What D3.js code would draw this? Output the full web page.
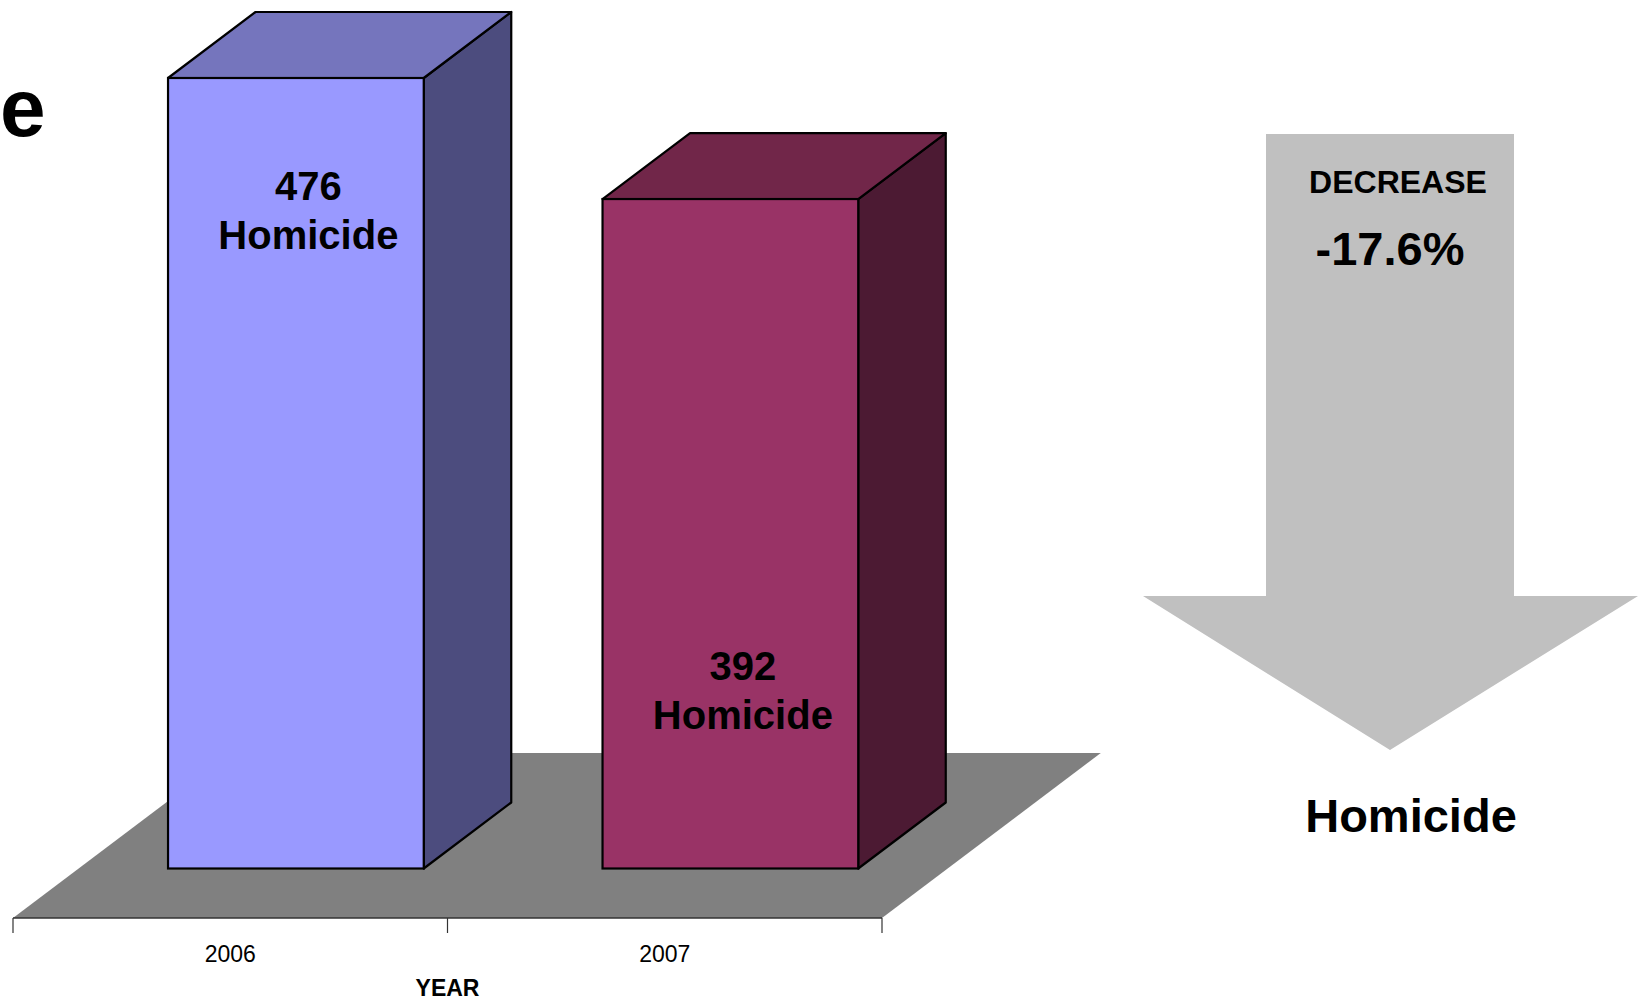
<!DOCTYPE html>
<html>
<head>
<meta charset="utf-8">
<script src="https://cdn.jsdelivr.net/npm/d3@7"></script>
<style>
  html, body { margin: 0; padding: 0; background: #fff; }
  svg { display: block; font-family: "Liberation Sans", Arial, sans-serif; }
</style>
</head>
<body>
<div id="chart"></div>
<script>
/** Data */
const years = ["2006", "2007"];
const homicides = [476, 392];
const crimeLabel = "Homicide";
const changeText = "-17.6%";
const changeLabel = "DECREASE";

/** Style per bar: front / top / side faces */
const barColors = [
  { front: "#9999ff", top: "#7575bd", side: "#4c4c7e" },
  { front: "#993366", top: "#712649", side: "#4c1a33" }
];
// where the two-line label sits, measured down from the bar's top edge
const labelDrop = [122, 481];

const W = 1646, H = 1002;

/** 3D geometry */
const floorFrontY = 918;
const floorDepthY = 165;
const slope = 1.326;          // x shift per 1px of depth in y
const barDepthY = 66;
const barOffsetY = (floorDepthY - barDepthY) / 2;

const svg = d3.select("#chart").append("svg")
  .attr("width", W)
  .attr("height", H);

/** Scales */
const xScale = d3.scaleBand()
  .domain(years)
  .range([13, 882]);

const barWidth = xScale.bandwidth() * 0.5885;

// axis minimum of the original chart sits below zero
const yScale = d3.scaleLinear()
  .domain([-72.6, 476])
  .range([floorFrontY - barOffsetY, 78]);

/** Floor */
const fx0 = xScale.range()[0], fx1 = xScale.range()[1];
const fdx = floorDepthY * slope;
svg.append("polygon")
  .attr("points", [
    [fx0, floorFrontY], [fx1, floorFrontY],
    [fx1 + fdx, floorFrontY - floorDepthY], [fx0 + fdx, floorFrontY - floorDepthY]
  ].map(p => p.join(",")).join(" "))
  .attr("fill", "#808080");

/** Bars */
const bdx = barDepthY * slope;
const shiftX = barOffsetY * slope;
const bars = svg.append("g").attr("id", "bars");

years.forEach((yr, i) => {
  const x0 = xScale(yr) + (xScale.bandwidth() - barWidth) / 2 + shiftX;
  const x1 = x0 + barWidth;
  const yTop = yScale(homicides[i]);
  const yBot = yScale.range()[0];
  const g = bars.append("g");
  const pts = arr => arr.map(p => p.join(",")).join(" ");

  g.append("polygon")
    .attr("points", pts([[x1, yTop], [x1 + bdx, yTop - barDepthY], [x1 + bdx, yBot - barDepthY], [x1, yBot]]))
    .attr("fill", barColors[i].side)
    .attr("stroke", "#000").attr("stroke-width", 2.2).attr("stroke-linejoin", "round");
  g.append("polygon")
    .attr("points", pts([[x0, yTop], [x0 + bdx, yTop - barDepthY], [x1 + bdx, yTop - barDepthY], [x1, yTop]]))
    .attr("fill", barColors[i].top)
    .attr("stroke", "#000").attr("stroke-width", 2.2).attr("stroke-linejoin", "round");
  g.append("rect")
    .attr("x", x0).attr("y", yTop)
    .attr("width", barWidth).attr("height", yBot - yTop)
    .attr("fill", barColors[i].front)
    .attr("stroke", "#000").attr("stroke-width", 2.2);

  const cx = x0 + barWidth / 2 + 12.5;
  const ly = yTop + labelDrop[i];
  g.append("text")
    .attr("x", cx).attr("y", ly)
    .attr("text-anchor", "middle")
    .style("font-size", "40px").style("font-weight", "bold")
    .text(homicides[i]);
  g.append("text")
    .attr("x", cx).attr("y", ly + 49)
    .attr("text-anchor", "middle")
    .style("font-size", "40px").style("font-weight", "bold")
    .text(crimeLabel);
});

/** X axis: ticks on band edges, labels at band centres */
const axis = svg.append("g").attr("id", "x-axis");
axis.append("line")
  .attr("x1", fx0).attr("x2", fx1)
  .attr("y1", floorFrontY).attr("y2", floorFrontY)
  .attr("stroke", "#333").attr("stroke-width", 1.5);
axis.selectAll("line.tick")
  .data([...years.map(d => xScale(d)), fx1])
  .enter().append("line")
  .attr("class", "tick")
  .attr("x1", d => d).attr("x2", d => d)
  .attr("y1", floorFrontY).attr("y2", floorFrontY + 15)
  .attr("stroke", "#333").attr("stroke-width", 1.2);
axis.selectAll("text")
  .data(years)
  .enter().append("text")
  .attr("x", d => xScale(d) + xScale.bandwidth() / 2)
  .attr("y", 962)
  .attr("text-anchor", "middle")
  .style("font-size", "23px")
  .text(d => d);
axis.append("text")
  .attr("x", (fx0 + fx1) / 2)
  .attr("y", 996)
  .attr("text-anchor", "middle")
  .style("font-size", "23px").style("font-weight", "bold")
  .text("YEAR");

/** Clipped title remnant at the left edge */
svg.append("text")
  .attr("x", 0).attr("y", 136)
  .style("font-size", "82px").style("font-weight", "bold")
  .text("e");

/** Decrease arrow */
const arrow = { left: 1266, right: 1514, top: 134, neck: 596, headL: 1143, headR: 1638, tipX: 1390, tipY: 750 };
svg.append("polygon")
  .attr("points", [
    [arrow.left, arrow.top], [arrow.right, arrow.top], [arrow.right, arrow.neck],
    [arrow.headR, arrow.neck], [arrow.tipX, arrow.tipY], [arrow.headL, arrow.neck],
    [arrow.left, arrow.neck]
  ].map(p => p.join(",")).join(" "))
  .attr("fill", "#c0c0c0");

svg.append("text")
  .attr("x", 1398).attr("y", 193)
  .attr("text-anchor", "middle")
  .style("font-size", "32px").style("font-weight", "bold")
  .text(changeLabel);
svg.append("text")
  .attr("x", 1390).attr("y", 265)
  .attr("text-anchor", "middle")
  .style("font-size", "47px").style("font-weight", "bold")
  .text(changeText);
svg.append("text")
  .attr("x", 1411).attr("y", 832)
  .attr("text-anchor", "middle")
  .style("font-size", "47px").style("font-weight", "bold")
  .text(crimeLabel);
</script>
</body>
</html>
